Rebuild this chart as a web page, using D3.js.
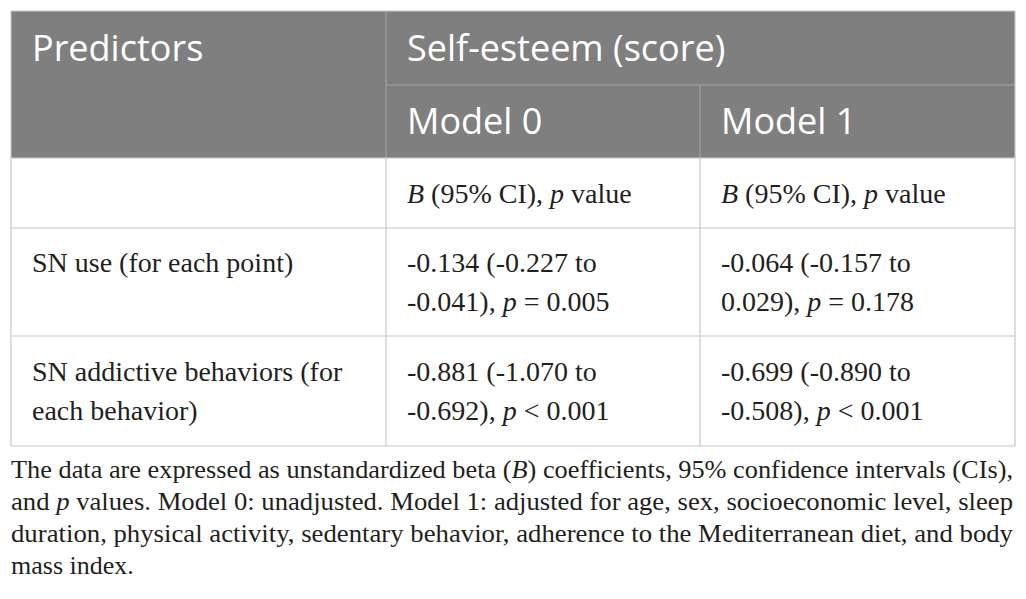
<!DOCTYPE html>
<html lang="en">
<head>
<meta charset="UTF-8">
<title>Self-esteem regression table</title>
<style>
    body { margin: 0; padding: 0; background: #fff; }
    svg { display: block; }
    .head { font-family: "Open Sans", sans-serif; fill: #fff; }
    .cell { font-family: "Liberation Serif", serif; fill: #231f20; }
    .note { font-family: "Liberation Serif", serif; fill: #231f20; }
</style>
</head>
<body>
<svg id="table"></svg>
<script src="https://d3js.org/d3.v7.min.js"></script>
<script>
    // table content; *x* marks italic text
    var headTop = ["Predictors", "Self-esteem (score)"];
    var models = ["Model 0", "Model 1"];
    var statLabel = ["", "*B* (95% CI), *p* value", "*B* (95% CI), *p* value"];
    var predictors = [
        ["SN use (for each point)"],
        ["SN addictive behaviors (for", "each behavior)"]
    ];
    var model0 = [
        ["-0.134 (-0.227 to", "-0.041), *p* = 0.005"],
        ["-0.881 (-1.070 to", "-0.692), *p* < 0.001"]
    ];
    var model1 = [
        ["-0.064 (-0.157 to", "0.029), *p* = 0.178"],
        ["-0.699 (-0.890 to", "-0.508), *p* < 0.001"]
    ];
    var footnote = [
        "The data are expressed as unstandardized beta (*B*) coefficients, 95% confidence intervals (CIs),",
        "and *p* values. Model 0: unadjusted. Model 1: adjusted for age, sex, socioeconomic level, sleep",
        "duration, physical activity, sedentary behavior, adherence to the Mediterranean diet, and body",
        "mass index."
    ];

    var W = 1026, H = 599;
    var left = 11, right = 1015;
    var colEdges = [left, 386, 700, right];
    var rowEdges = [11, 85, 158, 228, 336, 446];
    var padX = 21;
    var headColor = "#7f7f7f";
    var lineColor = "#c6c6c6";

    var svg = d3.select("#table").attr("width", W).attr("height", H);

    function addRich(sel, str) {
        str.split("*").forEach(function (part, i) {
            if (!part) return;
            sel.append("tspan")
                .attr("font-style", i % 2 ? "italic" : null)
                .text(part);
        });
    }

    // header background
    svg.append("rect")
        .attr("x", left).attr("y", rowEdges[0])
        .attr("width", right - left).attr("height", rowEdges[2] - rowEdges[0])
        .attr("fill", headColor);

    // header lines
    var hl = svg.append("g").attr("stroke", "#a6a6a6").attr("stroke-width", 1);
    hl.append("line")
        .attr("x1", colEdges[1]).attr("x2", right)
        .attr("y1", rowEdges[1]).attr("y2", rowEdges[1]);
    hl.append("line")
        .attr("x1", colEdges[1]).attr("x2", colEdges[1])
        .attr("y1", rowEdges[0]).attr("y2", rowEdges[2]);
    hl.append("line")
        .attr("x1", colEdges[2]).attr("x2", colEdges[2])
        .attr("y1", rowEdges[1]).attr("y2", rowEdges[2]);

    // header text
    var headSize = 36;
    svg.append("text").attr("class", "head")
        .attr("x", colEdges[0] + padX).attr("y", (rowEdges[0] + rowEdges[1]) / 2)
        .attr("dy", "0.36em").attr("font-size", headSize).text(headTop[0]);
    svg.append("text").attr("class", "head")
        .attr("x", colEdges[1] + padX).attr("y", (rowEdges[0] + rowEdges[1]) / 2)
        .attr("dy", "0.36em").attr("font-size", headSize).text(headTop[1]);
    svg.selectAll(".model")
        .data(models)
        .enter().append("text")
        .attr("class", "head model")
        .attr("x", (d, i) => colEdges[i + 1] + padX)
        .attr("y", (rowEdges[1] + rowEdges[2]) / 2)
        .attr("dy", "0.36em").attr("font-size", headSize)
        .text(d => d);

    // body grid
    var grid = svg.append("g").attr("stroke", lineColor).attr("stroke-width", 1.2);
    rowEdges.slice(2).forEach(function (y) {
        grid.append("line").attr("x1", left).attr("x2", right).attr("y1", y).attr("y2", y);
    });
    colEdges.forEach(function (x) {
        grid.append("line").attr("x1", x).attr("x2", x)
            .attr("y1", rowEdges[2]).attr("y2", rowEdges[5]);
    });
    [left, right].forEach(function (x) {
        grid.append("line").attr("x1", x).attr("x2", x)
            .attr("y1", rowEdges[0]).attr("y2", rowEdges[2]);
    });
    grid.append("line").attr("x1", left).attr("x2", right)
        .attr("y1", rowEdges[0]).attr("y2", rowEdges[0]);

    // body text
    var bodySize = 28, lineH = 39;
    function cellText(lines, col, r0, r1) {
        var n = lines.length;
        var cy = (r0 + r1) / 2 - (n - 1) * lineH / 2;
        lines.forEach(function (ln, k) {
            var t = svg.append("text").attr("class", "cell")
                .attr("x", colEdges[col] + padX)
                .attr("y", cy + k * lineH)
                .attr("dy", "0.35em")
                .attr("font-size", bodySize);
            addRich(t, ln);
        });
    }
    statLabel.forEach(function (s, c) {
        if (s) cellText([s], c, rowEdges[2], rowEdges[3]);
    });
    predictors.forEach(function (p, r) {
        var r0 = rowEdges[3 + r], r1 = rowEdges[4 + r];
        cellText(p.length === 1 ? [p[0], ""] : p, 0, r0, r1);
        cellText(model0[r], 1, r0, r1);
        cellText(model1[r], 2, r0, r1);
    });

    // footnote, justified
    var noteSize = 26, noteTop = 469, noteLH = 32;
    footnote.forEach(function (ln, k) {
        var t = svg.append("text").attr("class", "note")
            .attr("x", left).attr("y", noteTop + k * noteLH)
            .attr("dy", "0.35em").attr("font-size", noteSize);
        addRich(t, ln);
        if (k < footnote.length - 1) {
            t.attr("textLength", right - left - 2).attr("lengthAdjust", "spacingAndGlyphs");
        }
    });
</script>
</body>
</html>
